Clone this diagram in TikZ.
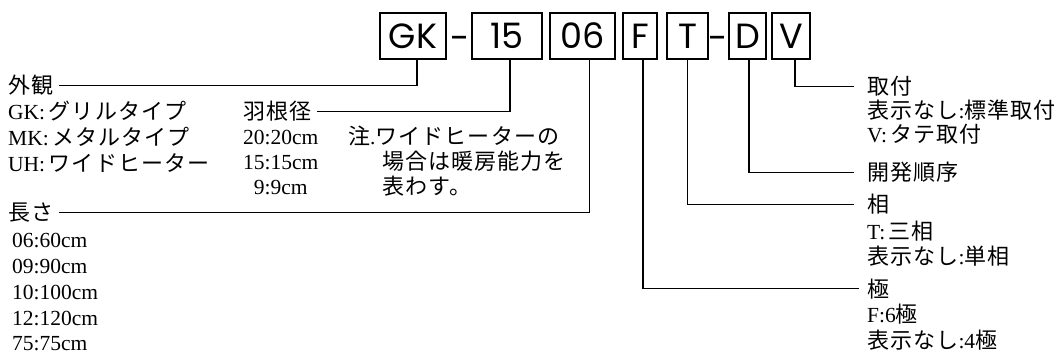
\documentclass[tikz,border=0pt]{standalone}
\usepackage{fontspec}
\setmainfont{Liberation Serif}
\newfontfamily\jp[LetterSpace=5]{Noto Sans CJK JP}
\newfontfamily\boxfont{Poppins}
\newcommand\jt[1]{{\jp\fontsize{22}{26}\selectfont #1}}
\tikzset{
  codebox/.style={draw, line width=1.5pt, minimum height=46pt, inner sep=0pt,
    font=\boxfont\fontsize{35}{35}\selectfont},
  dashsign/.style={inner sep=0pt, font=\boxfont\fontsize{35}{35}\selectfont},
  lbl/.style={anchor=base west, inner sep=0pt, font=\fontsize{21.5}{25}\selectfont},
  conn/.style={line width=1.2pt},
}
\begin{document}
\begin{tikzpicture}[x=1pt,y=-1pt]
\useasboundingbox (0,0) rectangle (1061,354);
% code boxes
\node[codebox, minimum width=66pt] (gk) at (413,36) {GK};
\node[dashsign] (d1) at (460,43) {-};
\node[codebox, minimum width=70pt] (b15) at (507,36) {15};
\node[codebox, minimum width=65pt] (b06) at (582.5,36) {06};
\node[codebox, minimum width=34pt] (bf) at (640,36) {F};
\node[codebox, minimum width=41pt] (bt) at (687.5,36) {T};
\node[dashsign] (d2) at (718,43) {-};
\node[codebox, minimum width=37pt] (bd) at (747.5,36) {D};
\node[codebox, minimum width=38pt] (bv) at (791,36) {V};
% left labels
\node[lbl] (gaikan) at (8,93.5) {\jt{外観}};
\node[lbl] at (8,119.5) {GK:\,\jt{グリルタイプ}};
\node[lbl] at (8,145.5) {MK:\,\jt{メタルタイプ}};
\node[lbl] at (8,171.5) {UH:\,\jt{ワイドヒーター}};
\node[lbl] (nagasa) at (8,220.5) {\jt{長さ}};
\node[lbl] at (12,247.5) {06:60cm};
\node[lbl] at (12,273.5) {09:90cm};
\node[lbl] at (12,299.5) {10:100cm};
\node[lbl] at (12,325) {12:120cm};
\node[lbl] at (12,350) {75:75cm};
% middle labels
\node[lbl] (hane) at (243,119.5) {\jt{羽根径}};
\node[lbl] at (243,144) {20:20cm};
\node[lbl] at (243,169) {15:15cm};
\node[lbl] at (243,194) {\phantom{0}9:9cm};
\node[lbl] at (348,144.5) {\jt{注}.\jt{ワイドヒーターの}};
\node[lbl] at (382,169.5) {\jt{場合は暖房能力を}};
\node[lbl] at (382,194.5) {\jt{表わす。}};
% right labels
\node[lbl] (tori) at (867,94.5) {\jt{取付}};
\node[lbl] at (867,118.5) {\jt{表示なし}:\jt{標準取付}};
\node[lbl] at (867,142.5) {V:\,\jt{タテ取付}};
\node[lbl] (kaihatsu) at (867,180.5) {\jt{開発順序}};
\node[lbl] (sou) at (867,212.5) {\jt{相}};
\node[lbl] at (867,239) {T:\,\jt{三相}};
\node[lbl] at (867,264.5) {\jt{表示なし}:\jt{単相}};
\node[lbl] (kyoku) at (867,297) {\jt{極}};
\node[lbl] at (867,322.5) {F:6\jt{極}};
\node[lbl] at (867,348.5) {\jt{表示なし}:4\jt{極}};
% connectors
\draw[conn] ([xshift=4pt]gk.south) |- ([xshift=5pt]gaikan.east);
\draw[conn] ([xshift=3pt]b15.south) |- ([xshift=5pt]hane.east);
\draw[conn] ([xshift=7pt]b06.south) |- ([xshift=5pt]nagasa.east);
\draw[conn] ([xshift=3pt]bf.south) |- ([xshift=-8pt]kyoku.west);
\draw[conn] (bt.south) |- ([xshift=-13pt]sou.west);
\draw[conn] ([xshift=1.5pt]bd.south) |- ([xshift=-13pt]kaihatsu.west);
\draw[conn] ([xshift=4pt]bv.south) |- ([xshift=-13pt]tori.west);
\end{tikzpicture}
\end{document}
